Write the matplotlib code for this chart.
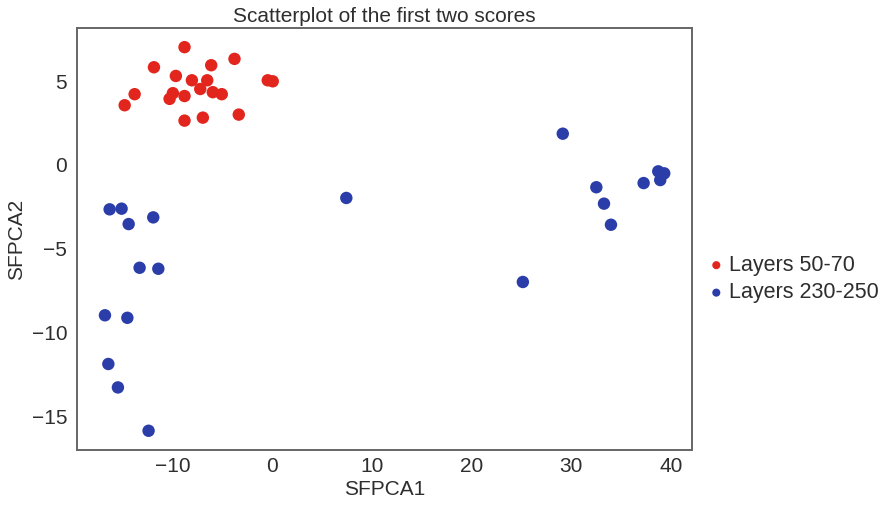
import matplotlib
matplotlib.use("Agg")
import matplotlib.pyplot as plt

plt.rcParams['font.family'] = ['Liberation Sans', 'DejaVu Sans']

# First two SFPCA scores for each group of layers
upper_x = [-8.83, -3.81, -11.9, -6.15, -9.70, -8.09, -6.55, -0.47, 0.03, -7.25,
           -5.99, -5.09, -13.84, -10.0, -10.33, -8.83, -14.84, -3.38, -6.99, -8.83]
upper_y = [7.04, 6.34, 5.84, 5.96, 5.32, 5.06, 5.06, 5.06, 5.00, 4.54,
           4.35, 4.23, 4.23, 4.29, 3.95, 4.12, 3.57, 3.01, 2.83, 2.65]

lower_x = [-16.35, -15.15, -14.44, -11.97, -13.34, -11.46, -16.82, -14.57, -16.48,
           -15.52, -12.44, 7.42, 29.16, 32.53, 33.30, 34.0, 37.28, 38.75, 39.35,
           38.95, 25.15]
lower_y = [-2.65, -2.61, -3.53, -3.13, -6.14, -6.20, -8.98, -9.13, -11.89,
           -13.29, -15.88, -1.97, 1.87, -1.33, -2.31, -3.57, -1.08, -0.38, -0.50,
           -0.90, -6.99]

group_labels = ["Layers 50-70", "Layers 230-250"]
group_colors = ["#E2261E", "#2B3DA8"]

text_color = '#2e2e2e'
fs = 15

fig = plt.figure(figsize=(8.82, 5.05), dpi=100)
ax = fig.add_axes([0.0873, 0.109, 0.6975, 0.8356])

ax.scatter(upper_x, upper_y, s=80, color=group_colors[0], edgecolors='none',
           label=group_labels[0])
ax.scatter(lower_x, lower_y, s=80, color=group_colors[1], edgecolors='none',
           label=group_labels[1])

ax.set_xticks([-10, 0, 10, 20, 30, 40])
ax.set_yticks([-15, -10, -5, 0, 5])
ax.tick_params(length=0, labelsize=fs, labelcolor=text_color)
ax.tick_params(axis='x', pad=5)
ax.tick_params(axis='y', pad=7)

for side in ax.spines.values():
    side.set_color('#666666')
    side.set_linewidth(1.4)

ax.set_title("Scatterplot of the first two scores", fontsize=fs, color=text_color, pad=4)
ax.set_xlabel("SFPCA1", fontsize=fs, color=text_color, labelpad=3)
ax.set_ylabel("SFPCA2", fontsize=fs, color=text_color, labelpad=4)

ax.legend(loc='center left', bbox_to_anchor=(1.0, 0.405), frameon=False,
          fontsize=15.5, markerscale=0.65, handlelength=0.8, handletextpad=0.2,
          labelspacing=0.3, borderaxespad=0.32, labelcolor=text_color)

fig.savefig("out.png", dpi=100)
